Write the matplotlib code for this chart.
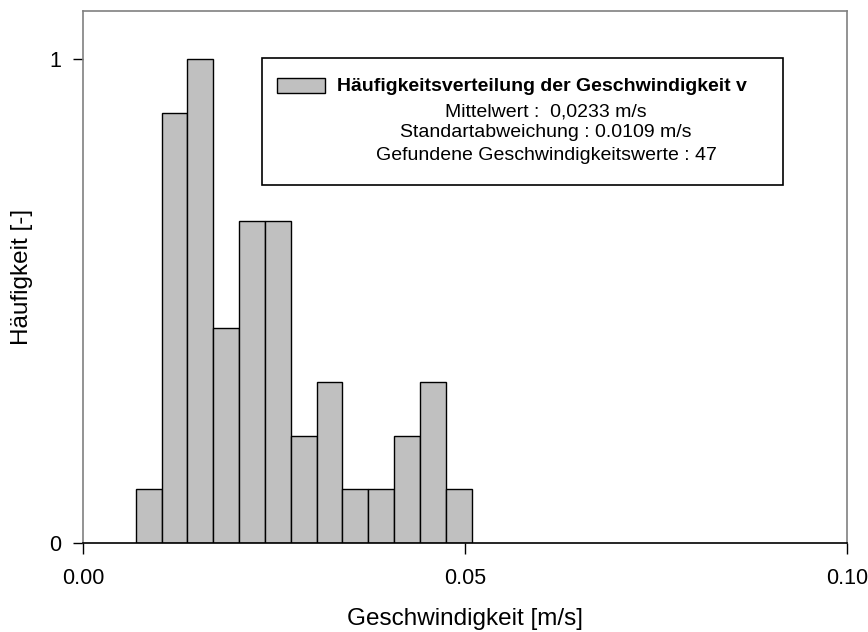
import matplotlib
matplotlib.use("Agg")
import matplotlib.pyplot as plt
from matplotlib.patches import Rectangle
import numpy as np

plt.rcParams['font.family'] = ['Liberation Sans', 'DejaVu Sans']

# histogram of measured velocities (counts per bin, 47 values)
bin_start = 0.0069
bin_width = 0.003383
counts = [1, 8, 9, 4, 6, 6, 2, 3, 1, 1, 2, 3, 1]

legend_title = "Häufigkeitsverteilung der Geschwindigkeit v"
legend_lines = ["Mittelwert :  0,0233 m/s",
                "Standartabweichung : 0.0109 m/s",
                "Gefundene Geschwindigkeitswerte : 47"]

xticks = [0.0, 0.05, 0.10]
xticklabels = ["0.00", "0.05", "0.10"]
yticks = [0, 1]
yticklabels = ["0", "1"]

counts = np.array(counts, dtype=float)
rel = counts / counts.max()
left_edges = bin_start + bin_width * np.arange(len(counts))

fig = plt.figure(figsize=(8.68, 6.32), dpi=100)
ax = fig.add_axes([0.0956, 0.1408, 0.8802, 0.8418])

bar_color = '#c0c0c0'
ax.bar(left_edges, rel, width=bin_width, align='edge',
       color=bar_color, edgecolor='black', linewidth=1.0)

ax.set_xlim(0, 0.10)
ax.set_ylim(0, 1.1)
ax.set_xticks(xticks)
ax.set_xticklabels(xticklabels)
ax.set_yticks(yticks)
ax.set_yticklabels(yticklabels)
ax.tick_params(axis='x', direction='out', length=8, width=1, pad=10, labelsize=15.5)
ax.tick_params(axis='y', direction='out', length=7, width=1, pad=9, labelsize=15.5)

for s in ['left', 'top', 'right']:
    ax.spines[s].set_color('#808080')
    ax.spines[s].set_linewidth(1.2)
ax.spines['bottom'].set_color('black')
ax.spines['bottom'].set_linewidth(1.2)

ax.set_xlabel("Geschwindigkeit [m/s]", fontsize=17.5)
ax.xaxis.set_label_coords(0.5, -0.122)
ax.set_ylabel("Häufigkeit [-]", fontsize=17.5)
ax.yaxis.set_label_coords(-0.066, 0.5)

# legend box drawn by hand
tr = ax.transAxes
ax.add_patch(Rectangle((0.2343, 0.6729), 0.6819, 0.2388, transform=tr,
                       facecolor='white', edgecolor='black', linewidth=1.2, zorder=5))
ax.add_patch(Rectangle((0.2539, 0.8459), 0.0628, 0.0282, transform=tr,
                       facecolor=bar_color, edgecolor='black', linewidth=1.0, zorder=6))
ax.text(0.3325, 0.859, legend_title, transform=tr, fontsize=14, fontweight='bold',
        ha='left', va='center', zorder=7)
for yy, line in zip([0.8107, 0.7707, 0.7293], legend_lines):
    ax.text(0.606, yy, line, transform=tr, fontsize=14, ha='center', va='center', zorder=7)

fig.savefig("out.png", dpi=100)
